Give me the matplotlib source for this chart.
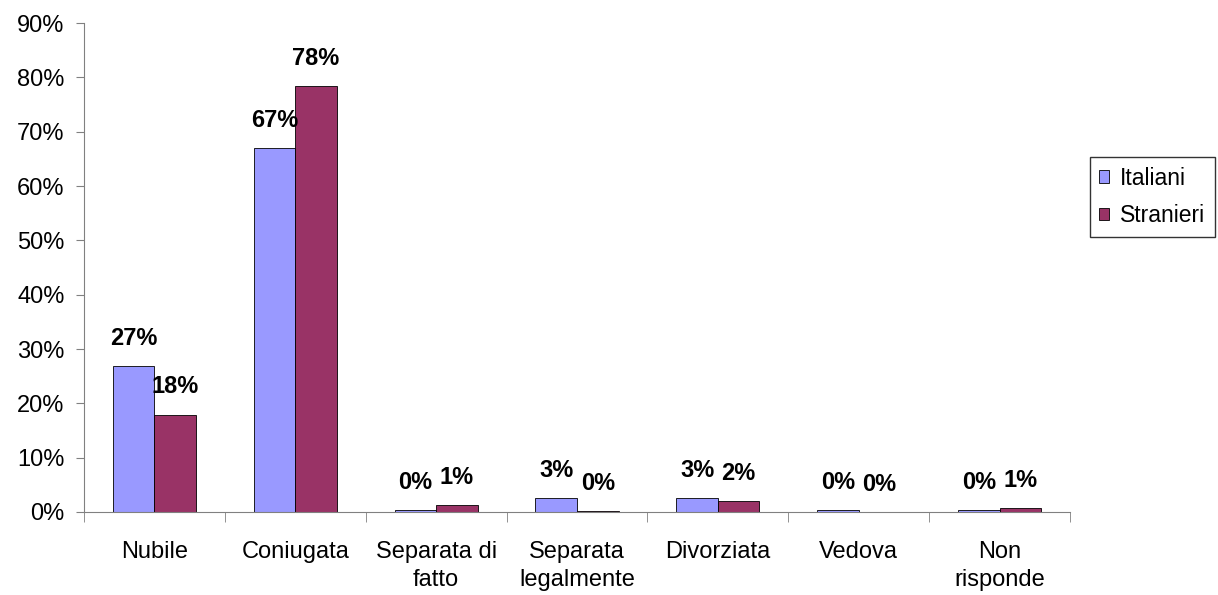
import matplotlib.pyplot as plt
import numpy as np

categories = ['Nubile', 'Coniugata', 'Separata di\nfatto', 'Separata\nlegalmente',
              'Divorziata', 'Vedova', 'Non\nrisponde']
italiani = [26.9, 67.0, 0.3, 2.6, 2.6, 0.3, 0.3]
stranieri = [17.9, 78.4, 1.2, 0.2, 2.0, 0.0, 0.7]
labels_ita = ['27%', '67%', '0%', '3%', '3%', '0%', '0%']
labels_str = ['18%', '78%', '1%', '0%', '2%', '0%', '1%']

plt.rcParams['font.family'] = ['Liberation Sans', 'DejaVu Sans']

fig = plt.figure(figsize=(12.18, 5.95), dpi=100)
ax = fig.add_axes([0.069, 0.1395, 0.8095, 0.8218])

x = np.arange(len(categories))
w = 0.295
b1 = ax.bar(x - w / 2, italiani, w, color='#9999FF', edgecolor='black', linewidth=0.6, label='Italiani')
b2 = ax.bar(x + w / 2, stranieri, w, color='#993366', edgecolor='black', linewidth=0.6, label='Stranieri')

for bars, labs in ((b1, labels_ita), (b2, labels_str)):
    for bar, lab in zip(bars, labs):
        ax.annotate(lab, (bar.get_x() + bar.get_width() / 2, bar.get_height()),
                    xytext=(0, 20), textcoords='offset points', ha='center', va='center',
                    fontsize=17, fontweight='bold')

ax.set_xlim(-0.5, len(categories) - 0.5)
ax.set_ylim(0, 90)
ax.set_yticks(np.arange(0, 91, 10))
ax.set_yticklabels([f'{v}%' for v in range(0, 91, 10)], fontsize=17)
ax.set_xticks(x)
ax.set_xticklabels(categories, fontsize=17, linespacing=1.35)
ax.tick_params(axis='x', which='major', length=0, pad=21)
ax.set_xticks(np.arange(-0.5, len(categories)), minor=True)
ax.tick_params(axis='x', which='minor', length=7, color='#808080')
ax.tick_params(axis='y', length=6, color='#808080', pad=8)

for s in ('top', 'right'):
    ax.spines[s].set_visible(False)
for s in ('left', 'bottom'):
    ax.spines[s].set_color('#808080')

fig.legend(loc='upper left', bbox_to_anchor=(0.8945, 0.736), fontsize=16.5, frameon=True,
           fancybox=False, edgecolor='black', handlelength=0.45, handleheight=0.45,
           handletextpad=0.45, borderpad=0.42, labelspacing=0.62, borderaxespad=0)

plt.savefig('out.png')
